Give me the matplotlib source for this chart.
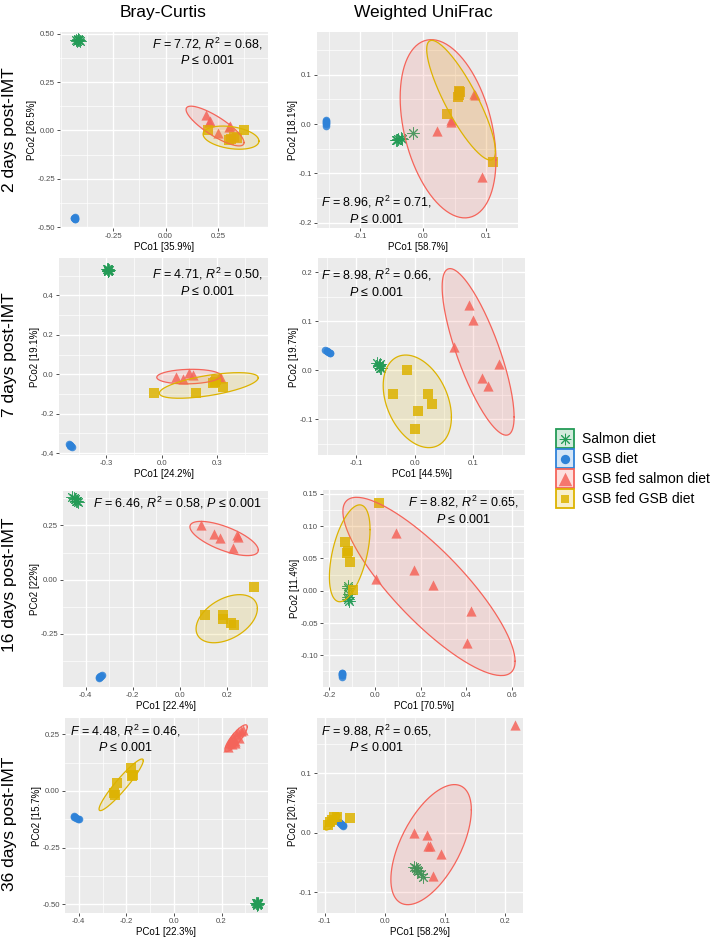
import numpy as np
import matplotlib
matplotlib.use("Agg")
import matplotlib.pyplot as plt
from matplotlib.ticker import FixedLocator, AutoMinorLocator
from matplotlib.patches import Rectangle

plt.rcParams['font.family'] = ['Liberation Sans', 'DejaVu Sans']
plt.rcParams['mathtext.fontset'] = 'custom'
plt.rcParams['mathtext.rm'] = 'Liberation Sans'
plt.rcParams['mathtext.it'] = 'Liberation Sans:italic'
plt.rcParams['mathtext.bf'] = 'Liberation Sans:bold'

# groups / legend
groups = ["Salmon diet", "GSB diet", "GSB fed salmon diet", "GSB fed GSB diet"]
keys = ["salmon", "gsb", "fed_salmon", "fed_gsb"]
colors = {"salmon": "#239B56", "gsb": "#2E82D8", "fed_salmon": "#F5645A", "fed_gsb": "#DDB300"}
markers = {"salmon": (8, 2, 0), "gsb": "o", "fed_salmon": "^", "fed_gsb": "s"}
msize = {"salmon": 66, "gsb": 30, "fed_salmon": 54, "fed_gsb": 42}

days = [2, 7, 16, 36]

# PERMANOVA results
bc_F = [7.72, 4.71, 6.46, 4.48]
bc_R2 = [0.68, 0.50, 0.58, 0.46]
wu_F = [8.96, 8.98, 8.82, 9.88]
wu_R2 = [0.71, 0.66, 0.65, 0.65]
p_max = "0.001"

# variance explained (%)
bc_pc1 = [35.9, 24.2, 22.4, 22.3]
bc_pc2 = [26.5, 19.1, 22, 15.7]
wu_pc1 = [58.7, 44.5, 70.5, 58.2]
wu_pc2 = [18.1, 19.7, 11.4, 20.7]

# ---- ordination scores ----
bc_d2 = {
    "salmon": [(-0.425, 0.470), (-0.420, 0.462), (-0.415, 0.472), (-0.410, 0.464), (-0.418, 0.468), (-0.412, 0.467)],
    "gsb": [(-0.435, -0.455), (-0.432, -0.450), (-0.430, -0.457), (-0.434, -0.452), (-0.431, -0.454), (-0.433, -0.456)],
    "fed_salmon": [(0.19, 0.08), (0.205, 0.045), (0.25, -0.012), (0.305, 0.022), (0.30, 0.018), (0.21, 0.05)],
    "fed_gsb": [(0.20, 0.003), (0.30, -0.049), (0.31, -0.045), (0.323, -0.035), (0.339, -0.037), (0.374, 0.003)],
}
wu_d2 = {
    "salmon": [(-0.043, -0.032), (-0.040, -0.031), (-0.034, -0.031), (-0.017, -0.019), (-0.036, -0.029), (-0.042, -0.033)],
    "gsb": [(-0.155, 0.008), (-0.155, 0.004), (-0.155, 0.0), (-0.155, -0.003), (-0.155, 0.006), (-0.155, 0.002)],
    "fed_salmon": [(0.021, -0.014), (0.043, 0.008), (0.080, 0.062), (0.093, -0.107), (0.044, 0.005), (0.082, 0.060)],
    "fed_gsb": [(0.038, 0.020), (0.054, 0.055), (0.057, 0.068), (0.058, 0.066), (0.110, -0.076), (0.056, 0.060)],
}
bc_d7 = {
    "salmon": [(-0.295, 0.532), (-0.290, 0.526), (-0.287, 0.530), (-0.292, 0.524), (-0.289, 0.534), (-0.293, 0.528)],
    "gsb": [(-0.503, -0.353), (-0.500, -0.357), (-0.496, -0.360), (-0.492, -0.363), (-0.488, -0.367), (-0.498, -0.362)],
    "fed_salmon": [(0.076, -0.012), (0.114, -0.024), (0.148, 0.008), (0.168, -0.004), (0.32, -0.02), (0.31, -0.015)],
    "fed_gsb": [(-0.042, -0.093), (0.186, -0.093), (0.28, -0.043), (0.295, -0.03), (0.331, -0.063), (0.29, -0.038)],
}
wu_d7 = {
    "salmon": [(-0.064, 0.014), (-0.061, 0.010), (-0.059, 0.005), (-0.062, 0.008), (-0.060, 0.012), (-0.058, 0.004)],
    "gsb": [(-0.154, 0.042), (-0.151, 0.040), (-0.148, 0.037), (-0.145, 0.035), (-0.150, 0.039), (-0.146, 0.036)],
    "fed_salmon": [(0.093, 0.133), (0.100, 0.102), (0.067, 0.048), (0.144, 0.012), (0.116, -0.016), (0.126, -0.032)],
    "fed_gsb": [(-0.013, 0.0), (-0.037, -0.048), (0.023, -0.048), (0.030, -0.068), (0.005, -0.083), (0.0, -0.120)],
}
bc_d16 = {
    "salmon": [(-0.457, 0.380), (-0.450, 0.375), (-0.440, 0.365), (-0.432, 0.358), (-0.436, 0.362), (-0.445, 0.370)],
    "gsb": [(-0.345, -0.452), (-0.340, -0.448), (-0.336, -0.444), (-0.332, -0.441), (-0.338, -0.446), (-0.343, -0.450)],
    "fed_salmon": [(0.089, 0.251), (0.145, 0.209), (0.169, 0.192), (0.243, 0.204), (0.246, 0.197), (0.226, 0.145)],
    "fed_gsb": [(0.314, -0.036), (0.106, -0.163), (0.181, -0.164), (0.181, -0.183), (0.216, -0.201), (0.230, -0.209)],
}
wu_d16 = {
    "salmon": [(-0.118, 0.008), (-0.117, -0.009), (-0.116, -0.016), (-0.118, -0.012), (-0.117, 0.004), (-0.116, -0.005)],
    "gsb": [(-0.146, -0.127), (-0.146, -0.129), (-0.146, -0.131), (-0.146, -0.133), (-0.145, -0.130), (-0.147, -0.128)],
    "fed_salmon": [(0.092, 0.089), (0.172, 0.0325), (0.255, 0.0093), (0.003, 0.0186), (0.419, -0.031), (0.404, -0.081)],
    "fed_gsb": [(0.019, 0.136), (-0.131, 0.075), (-0.117, 0.062), (-0.124, 0.058), (-0.109, 0.044), (-0.098, 0.0005)],
}
bc_d36 = {
    "salmon": [(0.345, -0.497), (0.350, -0.500), (0.353, -0.495), (0.348, -0.502), (0.352, -0.498), (0.347, -0.494)],
    "gsb": [(-0.422, -0.112), (-0.418, -0.116), (-0.412, -0.120), (-0.400, -0.125), (-0.405, -0.123), (-0.420, -0.114)],
    "fed_salmon": [(0.225, 0.195), (0.232, 0.21), (0.24, 0.225), (0.25, 0.24), (0.255, 0.22), (0.262, 0.25),
                   (0.27, 0.26), (0.275, 0.235), (0.28, 0.265), (0.29, 0.27), (0.258, 0.21), (0.245, 0.205)],
    "fed_gsb": [(-0.182, 0.103), (-0.171, 0.071), (-0.175, 0.065), (-0.238, 0.037), (-0.251, -0.007), (-0.248, -0.018)],
}
wu_d36 = {
    "salmon": [(0.048, -0.057), (0.052, -0.060), (0.056, -0.065), (0.060, -0.070), (0.063, -0.074), (0.054, -0.062)],
    "gsb": [(-0.076, 0.018), (-0.074, 0.016), (-0.071, 0.013), (-0.069, 0.012), (-0.073, 0.015), (-0.070, 0.0125)],
    "fed_salmon": [(0.2167, 0.181), (0.048, -0.001), (0.0706, -0.003), (0.072, -0.022), (0.075, -0.023),
                   (0.093, -0.036), (0.0795, -0.073)],
    "fed_gsb": [(-0.095, 0.013), (-0.092, 0.018), (-0.088, 0.022), (-0.084, 0.026), (-0.080, 0.027), (-0.058, 0.024)],
}

# 95% ellipses: centre x, centre y, half width, half height, correlation
bc_d2_ell = {"fed_salmon": (0.235, 0.023, 0.138, 0.103, -0.83), "fed_gsb": (0.311, -0.037, 0.133, 0.060, -0.3)}
wu_d2_ell = {"fed_salmon": (0.039, -0.0095, 0.076, 0.181, -0.35), "fed_gsb": (0.0596, 0.0485, 0.0545, 0.1215, -0.85)}
bc_d7_ell = {"fed_salmon": (0.147, -0.012, 0.174, 0.037, 0.1), "fed_gsb": (0.255, -0.057, 0.268, 0.065, 0.6)}
wu_d7_ell = {"fed_salmon": (0.1086, 0.0374, 0.0617, 0.170, -0.78), "fed_gsb": (0.0043, -0.0635, 0.0585, 0.0945, -0.34)}
bc_d16_ell = {"fed_salmon": (0.187, 0.19, 0.145, 0.079, -0.68), "fed_gsb": (0.198, -0.180, 0.13, 0.111, 0.42)}
wu_d16_ell = {"fed_salmon": (0.236, 0.0067, 0.377, 0.138, -0.84), "fed_gsb": (-0.111, 0.058, 0.089, 0.075, 0.49)}
bc_d36_ell = {"fed_salmon": (0.261, 0.233, 0.047, 0.059, 0.85), "fed_gsb": (-0.222, 0.027, 0.093, 0.114, 0.94)}
wu_d36_ell = {"fed_salmon": (0.077, -0.020, 0.067, 0.101, 0.58), "fed_gsb": (-0.0875, 0.0185, 0.0125, 0.014, 0.8)}

# axis breaks
bc_xticks = [[-0.25, 0, 0.25], [-0.3, 0, 0.3], [-0.4, -0.2, 0, 0.2], [-0.4, -0.2, 0, 0.2]]
bc_yticks = [[-0.5, -0.25, 0, 0.25, 0.5], [-0.4, -0.2, 0, 0.2, 0.4], [-0.25, 0, 0.25], [-0.5, -0.25, 0, 0.25]]
bc_xdec = [2, 1, 1, 1]
bc_ydec = [2, 1, 2, 2]
wu_xticks = [[-0.1, 0, 0.1], [-0.1, 0, 0.1], [-0.2, 0, 0.2, 0.4, 0.6], [-0.1, 0, 0.1, 0.2]]
wu_yticks = [[-0.2, -0.1, 0, 0.1], [-0.1, 0, 0.1, 0.2], [-0.1, -0.05, 0, 0.05, 0.1, 0.15], [-0.1, 0, 0.1]]
wu_xdec = [1, 1, 1, 1]
wu_ydec = [1, 1, 2, 1]

bc_xlim = [(-0.503, 0.487), (-0.557, 0.576), (-0.496, 0.373), (-0.458, 0.395)]
bc_ylim = [(-0.505, 0.510), (-0.410, 0.590), (-0.495, 0.409), (-0.539, 0.322)]
wu_xlim = [(-0.169, 0.150), (-0.166, 0.189), (-0.228, 0.652), (-0.113, 0.230)]
wu_ylim = [(-0.211, 0.187), (-0.173, 0.229), (-0.149, 0.156), (-0.135, 0.193)]

bc_data = [bc_d2, bc_d7, bc_d16, bc_d36]
wu_data = [wu_d2, wu_d7, wu_d16, wu_d36]
bc_ell = [bc_d2_ell, bc_d7_ell, bc_d16_ell, bc_d36_ell]
wu_ell = [wu_d2_ell, wu_d7_ell, wu_d16_ell, wu_d36_ell]

# ---- layout (pixels) ----
W, H = 710, 938
bc_box = [(60, 32, 268, 228), (59, 258, 268, 455), (63, 491, 268, 687), (65, 718, 268, 913)]
wu_box = [(317, 32, 518, 228), (318, 258, 525, 455), (323, 490, 524, 687), (317, 718, 523, 913)]
bc_stat_pos = [(0.709, 0.90, 'center'), (0.71, 0.878, 'center'), (0.146, 0.94, 'left'), (0.296, 0.896, 'center')]
wu_stat_pos = [(0.297, 0.092, 'center'), (0.283, 0.873, 'center'), (0.70, 0.90, 'center'), (0.29, 0.896, 'center')]
row_label_y = [130, 355, 585, 824]

fig = plt.figure(figsize=(W / 100, H / 100), dpi=100)


def px_axes(l, t, r, b):
    return fig.add_axes([l / W, 1 - b / H, (r - l) / W, (b - t) / H])


def draw_ellipse(ax, params, color):
    cx, cy, hx, hy, rho = params
    t = np.linspace(0, 2 * np.pi, 181)
    ex = cx + hx * np.cos(t)
    ey = cy + hy * (rho * np.cos(t) + np.sqrt(1 - rho ** 2) * np.sin(t))
    ax.fill(ex, ey, color=color, alpha=0.15, lw=0, zorder=3)
    ax.plot(ex, ey, color=color, lw=0.9, zorder=3)


def panel(box, data, ell, xlim, ylim, xt, yt, xd, yd, xlabel, ylabel, stat, spos):
    ax = px_axes(*box)
    ax.set_facecolor('#EBEBEB')
    for s in ax.spines.values():
        s.set_visible(False)
    for k in keys:
        pts = np.array(data[k])
        if k == "salmon":
            ax.scatter(pts[:, 0], pts[:, 1], marker=markers[k], s=msize[k], color=colors[k],
                       linewidths=0.7, alpha=0.9, zorder=2)
        else:
            ax.scatter(pts[:, 0], pts[:, 1], marker=markers[k], s=msize[k], color=colors[k],
                       linewidths=0, alpha=0.85, zorder=2)
    for k, p in ell.items():
        draw_ellipse(ax, p, colors[k])
    ax.set_xlim(*xlim)
    ax.set_ylim(*ylim)
    ax.xaxis.set_major_locator(FixedLocator(xt))
    ax.yaxis.set_major_locator(FixedLocator(yt))
    ax.set_xticklabels([f"{v:.{xd}f}" for v in xt])
    ax.set_yticklabels([f"{v:.{yd}f}" for v in yt])
    ax.xaxis.set_minor_locator(AutoMinorLocator(2))
    ax.yaxis.set_minor_locator(AutoMinorLocator(2))
    ax.grid(which='major', color='white', lw=1.0)
    ax.grid(which='minor', color='white', lw=0.5)
    ax.set_axisbelow(True)
    ax.tick_params(which='major', length=2.5, width=0.6, color='#333333', labelsize=5.6,
                   labelcolor='#4D4D4D', pad=1.2)
    ax.tick_params(which='minor', length=0)
    ax.set_xlabel(xlabel, fontsize=7, labelpad=1.5)
    ax.set_ylabel(ylabel, fontsize=7, labelpad=0.5)
    ax.text(spos[0], spos[1], stat, transform=ax.transAxes, ha=spos[2], va='center',
            multialignment='center', fontsize=9, linespacing=1.25, zorder=5)
    return ax


for i in range(4):
    if i == 2:
        bc_stat = f"$F$ = {bc_F[i]:.2f}, $R^2$ = {bc_R2[i]:.2f}, $P$ ≤ {p_max}"
    else:
        bc_stat = f"$F$ = {bc_F[i]:.2f}, $R^2$ = {bc_R2[i]:.2f},\n$P$ ≤ {p_max}"
    wu_stat = f"$F$ = {wu_F[i]:.2f}, $R^2$ = {wu_R2[i]:.2f},\n$P$ ≤ {p_max}"
    panel(bc_box[i], bc_data[i], bc_ell[i], bc_xlim[i], bc_ylim[i], bc_xticks[i], bc_yticks[i],
          bc_xdec[i], bc_ydec[i], f"PCo1 [{bc_pc1[i]:g}%]", f"PCo2 [{bc_pc2[i]:g}%]", bc_stat, bc_stat_pos[i])
    panel(wu_box[i], wu_data[i], wu_ell[i], wu_xlim[i], wu_ylim[i], wu_xticks[i], wu_yticks[i],
          wu_xdec[i], wu_ydec[i], f"PCo1 [{wu_pc1[i]:g}%]", f"PCo2 [{wu_pc2[i]:g}%]", wu_stat, wu_stat_pos[i])
    fig.text(10 / W, 1 - row_label_y[i] / H, f"{days[i]} days post-IMT", rotation=90,
             ha='center', va='center', fontsize=12.5)

fig.text(163 / W, 1 - 12 / H, "Bray-Curtis", ha='center', va='center', fontsize=12.5)
fig.text(423 / W, 1 - 12 / H, "Weighted UniFrac", ha='center', va='center', fontsize=12.5)

# legend, drawn in pixel space
lax = fig.add_axes([0, 0, 1, 1])
lax.set_xlim(0, W)
lax.set_ylim(H, 0)
lax.axis('off')
for j, k in enumerate(keys):
    top = 429.5 + j * 20
    lax.add_patch(Rectangle((555.5, top), 18.5, 18.5, facecolor=colors[k], alpha=0.2, lw=0))
    lax.add_patch(Rectangle((555.5, top), 18.5, 18.5, facecolor='none', edgecolor=colors[k], lw=1.3))
    cy = top + 9.25
    if k == "salmon":
        lax.scatter([564.75], [cy], marker=markers[k], s=60, color=colors[k], linewidths=0.7)
    elif k == "fed_salmon":
        lax.scatter([564.75], [cy], marker=markers[k], s=95, color=colors[k], linewidths=0, alpha=0.85)
    elif k == "fed_gsb":
        lax.scatter([564.75], [cy], marker=markers[k], s=38, color=colors[k], linewidths=0, alpha=0.85)
    else:
        lax.scatter([564.75], [cy], marker=markers[k], s=45, color=colors[k], linewidths=0)
    lax.text(582, cy, groups[j], ha='left', va='center', fontsize=10)

fig.savefig("out.png", dpi=100)
